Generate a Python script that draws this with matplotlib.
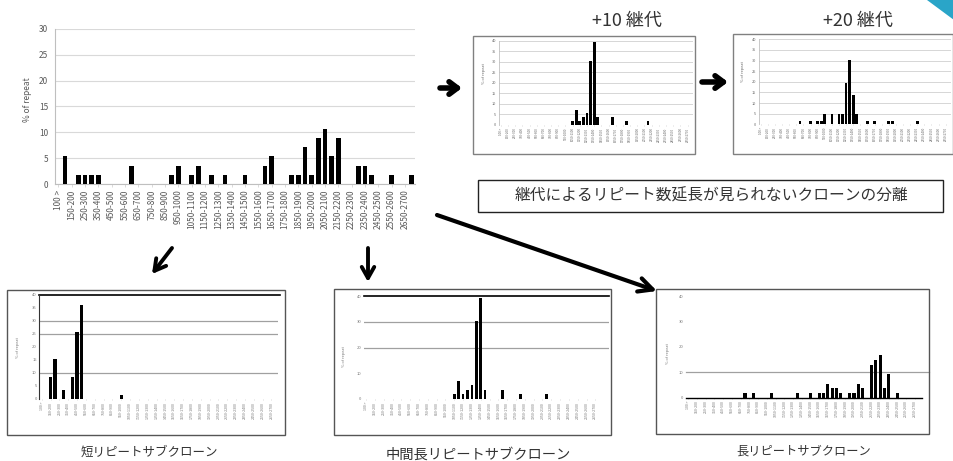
import matplotlib
matplotlib.use("Agg")
import matplotlib.pyplot as plt
from matplotlib.patches import Rectangle, Polygon

plt.rcParams['font.family'] = ['Noto Sans CJK JP', 'DejaVu Sans']

W, H = 954, 461

# カテゴリ (リピート数の区間) と表示するラベル
categories = ["100 >"] + [f"{s}-{s + 50}" for s in range(100, 2750, 50)]
tick_labels = categories[::2]

# 各ヒストグラムの値 (% of repeat), 値のない区間は 0
main_pct = {
    "100-150": 5.36, "200-250": 1.79, "250-300": 1.79, "300-350": 1.79,
    "350-400": 1.79, "600-650": 3.57, "900-950": 1.79, "950-1000": 3.57,
    "1050-1100": 1.79, "1100-1150": 3.57, "1200-1250": 1.79, "1300-1350": 1.79,
    "1450-1500": 1.79, "1600-1650": 3.57, "1650-1700": 5.36, "1800-1850": 1.79,
    "1850-1900": 1.79, "1900-1950": 7.14, "1950-2000": 1.79, "2000-2050": 8.93,
    "2050-2100": 10.71, "2100-2150": 5.36, "2150-2200": 8.93, "2300-2350": 3.57,
    "2350-2400": 3.57, "2400-2450": 1.79, "2550-2600": 1.79, "2700-2750": 1.79,
}
p10_pct = {
    "1050-1100": 1.79, "1100-1150": 7.14, "1150-1200": 1.79, "1200-1250": 3.57,
    "1250-1300": 5.36, "1300-1350": 30.36, "1350-1400": 39.29, "1400-1450": 3.57,
    "1600-1650": 3.57, "1800-1850": 1.79, "2100-2150": 1.79,
}
p20_pct = {
    "600-650": 1.6, "750-800": 1.6, "850-900": 1.6, "900-950": 1.6,
    "950-1000": 4.7, "1050-1100": 4.7, "1150-1200": 4.7, "1200-1250": 4.7,
    "1250-1300": 19.6, "1300-1350": 30.1, "1350-1400": 13.6, "1400-1450": 4.7,
    "1550-1600": 1.6, "1650-1700": 1.6, "1850-1900": 1.6, "1900-1950": 1.6,
    "2250-2300": 1.6,
}
short_pct = {
    "150-200": 8.62, "200-250": 15.52, "300-350": 3.45, "400-450": 8.62,
    "450-500": 25.86, "500-550": 36.21, "950-1000": 1.72,
}
middle_pct = {
    "1050-1100": 1.79, "1100-1150": 7.14, "1150-1200": 1.79, "1200-1250": 3.57,
    "1250-1300": 5.36, "1300-1350": 30.36, "1350-1400": 39.29, "1400-1450": 3.57,
    "1600-1650": 3.57, "1800-1850": 1.79, "2100-2150": 1.79,
}
long_pct = {
    "700-750": 1.85, "800-850": 1.85, "1000-1050": 1.85, "1300-1350": 1.85,
    "1450-1500": 1.85, "1550-1600": 1.85, "1600-1650": 1.85, "1650-1700": 5.56,
    "1700-1750": 3.70, "1750-1800": 3.70, "1800-1850": 1.85, "1900-1950": 1.85,
    "1950-2000": 1.85, "2000-2050": 5.56, "2050-2100": 3.70, "2150-2200": 12.96,
    "2200-2250": 14.81, "2250-2300": 16.67, "2300-2350": 3.70, "2350-2400": 9.26,
    "2450-2500": 1.85,
}

title_p10 = "+10 継代"
title_p20 = "+20 継代"
box_text = "継代によるリピート数延長が見られないクローンの分離"
title_short = "短リピートサブクローン"
title_middle = "中間長リピートサブクローン"
title_long = "長リピートサブクローン"
ylabel = "% of repeat"


def rect(x0, y0, x1, y1):
    return [x0 / W, 1 - y1 / H, (x1 - x0) / W, (y1 - y0) / H]


def series(d):
    return [d.get(c, 0) for c in categories]


def histogram(box, pct, ymax, ystep, width, xsize, ysize, color, xmax=None):
    ax = fig.add_axes(rect(*box))
    ax.bar(range(len(categories)), series(pct), width=width, color='black', zorder=3)
    ax.set_xlim(-0.5, xmax if xmax else len(categories) - 0.5)
    ax.set_ylim(0, ymax)
    ax.set_yticks(range(0, ymax + 1, ystep))
    ax.set_xticks(range(0, len(categories), 2))
    ax.set_xticklabels(tick_labels, rotation=90, fontsize=xsize, color=color)
    ax.tick_params(axis='y', labelsize=ysize, labelcolor=color, length=0, pad=2)
    ax.tick_params(axis='x', length=1, width=0.4, color='#bfbfbf', pad=1)
    for s in ax.spines.values():
        s.set_visible(False)
    ax.patch.set_alpha(0)
    return ax


fig = plt.figure(figsize=(W / 100, H / 100), dpi=100)

# 全体に重ねる座標系 (ピクセル単位)
ov = fig.add_axes([0, 0, 1, 1], zorder=10)
ov.set_xlim(0, W)
ov.set_ylim(H, 0)
ov.axis('off')

# メインのヒストグラム
ax = histogram((55, 29, 415, 184), main_pct, 30, 5, 0.72, 6, 6, '#595959')
ax.yaxis.grid(True, color='#d9d9d9', lw=0.8, zorder=0)
ax.spines['left'].set_visible(True)
ax.spines['left'].set_color('#bfbfbf')
ax.spines['bottom'].set_visible(True)
ax.spines['bottom'].set_color('#bfbfbf')
ax.tick_params(axis='y', pad=5)
ax.tick_params(axis='x', length=2, pad=2)
ov.text(28, 100, ylabel, rotation=90, fontsize=6, color='#595959', ha='center', va='center')

# +10 / +20 継代
for box, frame, pct, lab in [((499, 41, 693, 124.7), (473, 36, 695, 154), p10_pct, (484, 74)),
                             ((759, 39.3, 951, 124.3), (733, 34, 953.5, 154), p20_pct, (743, 72))]:
    ov.add_patch(Rectangle((frame[0], frame[1]), frame[2] - frame[0], frame[3] - frame[1],
                           fill=False, ec='#808080', lw=1))
    ax = histogram(box, pct, 40, 5, 0.75, 2.2, 2.8, '#666666')
    ax.yaxis.grid(True, color='#d0d0d0', lw=0.6, zorder=0)
    ax.spines['left'].set_visible(True)
    ax.spines['left'].set_color('#c0c0c0')
    ax.spines['left'].set_linewidth(0.6)
    ov.text(lab[0], lab[1], ylabel, rotation=90, fontsize=2.8, color='#666666',
            ha='center', va='center')

ov.text(627, 21, title_p10, fontsize=13, color='#333333', ha='center', va='center')
ov.text(858, 21, title_p20, fontsize=13, color='#333333', ha='center', va='center')

ov.add_patch(Rectangle((478, 180), 465, 32, fill=False, ec='#222222', lw=1))
ov.text(711, 196, box_text, fontsize=11.3, color='#333333', ha='center', va='center')

# 下段のサブクローン
ov.add_patch(Rectangle((7, 290), 278, 145, fill=False, ec='#555555', lw=1))
ax = histogram((39.5, 294.7, 278, 399), short_pct, 40, 5, 0.7, 2.6, 3, '#777777')
for y in [10, 25, 30]:
    ax.axhline(y, color='#a0a0a0', lw=0.9, zorder=1)
ax.axhline(40, color='black', lw=1.2, zorder=1, clip_on=False, xmax=1.01)
ax.spines['left'].set_visible(True)
ax.spines['left'].set_color('#333333')
ov.text(18, 348, ylabel, rotation=90, fontsize=2.8, color='#777777', ha='center', va='center')
ov.text(149, 452, title_short, fontsize=9, color='#333333', ha='center', va='center')

ov.add_patch(Rectangle((334, 289), 277, 146, fill=False, ec='#555555', lw=1))
ax = histogram((363.9, 296.3, 609, 399), middle_pct, 40, 10, 0.62, 2.6, 3, '#777777',
               xmax=55.1)
for y in [20, 30]:
    ax.axhline(y, color='#a0a0a0', lw=0.9, zorder=1)
ax.axhline(40, color='black', lw=1.2, zorder=1, clip_on=False)
ov.text(344, 357, ylabel, rotation=90, fontsize=2.8, color='#777777', ha='center', va='center')
ov.text(478, 455, title_middle, fontsize=10.3, color='#333333', ha='center', va='center')

ov.add_patch(Rectangle((656, 289), 273, 145, fill=False, ec='#555555', lw=1))
ax = histogram((686.1, 296.3, 921.6, 397.7), long_pct, 40, 10, 0.72, 2.6, 3, '#777777')
ax.axhline(10, color='#a0a0a0', lw=0.9, zorder=1, clip_on=False, xmax=1.03)
ax.spines['bottom'].set_visible(True)
ax.spines['bottom'].set_color('black')
ax.spines['bottom'].set_linewidth(1)
ov.text(668, 354, ylabel, rotation=90, fontsize=2.8, color='#777777', ha='center', va='center')
ov.text(804, 451, title_long, fontsize=8.8, color='#333333', ha='center', va='center')

# 矢印
def arrow(tail, tip, lw, hl, hw):
    ov.annotate("", xy=tip, xytext=tail,
                arrowprops=dict(arrowstyle=f"->,head_length={hl},head_width={hw}",
                                lw=lw, color='black', shrinkA=0, shrinkB=0))

arrow((440, 88), (462, 88), 4, 0.6, 0.45)
arrow((702, 82), (728, 82), 4, 0.6, 0.45)
arrow((437, 215), (657, 291), 3, 1.0, 0.5)
arrow((368, 248), (368, 282), 2.8, 0.8, 0.45)
arrow((172, 248), (152, 274), 2.8, 0.8, 0.45)

# 右上の飾り
ov.add_patch(Polygon([(927, 0), (954, 0), (954, 20)], closed=True, color='#2aa5c8', lw=0))

fig.savefig("out.png", dpi=100)
